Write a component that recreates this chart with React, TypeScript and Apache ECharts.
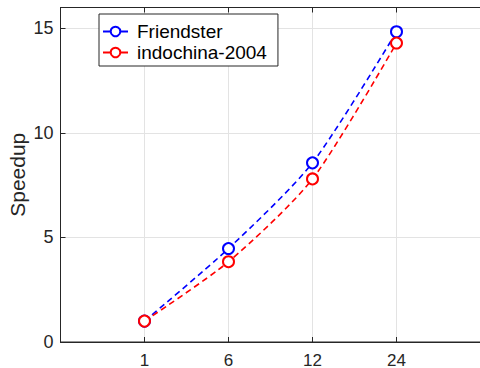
import React, { useEffect, useRef } from "react";
import * as echarts from "echarts";

const xLabels = ["1", "6", "12", "24"];
const friendster = [1, 4.47, 8.57, 14.84];
const indochina = [1, 3.84, 7.8, 14.3];
const seriesNames = ["Friendster", "indochina-2004"];
const yTicks = [0, 5, 10, 15];

export default function App() {
  const ref = useRef<HTMLDivElement>(null);
  useEffect(() => {
    const chart = echarts.init(ref.current!, undefined, { renderer: "svg" });
    const font = "'Liberation Sans', Arial, Helvetica, sans-serif";
    const axisColor = "#262626";
    const mk = (name: string, vals: number[], color: string) => ({
      name,
      type: "line",
      data: vals.map((v, i) => [i + 1, v]),
      smooth: 0.25,
      symbol: "emptyCircle",
      symbolSize: 11,
      showSymbol: true,
      lineStyle: { color, width: 1.6, type: [6, 4] },
      itemStyle: { color, borderColor: color, borderWidth: 1.6 },
      emphasis: { disabled: true },
    });
    chart.setOption({
      animation: false,
      backgroundColor: "#ffffff",
      grid: {
        left: 60.5,
        top: 7.5,
        width: 420,
        height: 334.5,
        containLabel: false,
        outerBoundsMode: "none",
        show: true,
        borderColor: axisColor,
        borderWidth: 1,
        backgroundColor: "transparent",
      },
      legend: {
        orient: "vertical",
        left: 99,
        top: 14,
        data: seriesNames,
        backgroundColor: "#ffffff",
        borderColor: axisColor,
        borderWidth: 1,
        padding: [8, 11, 4, 3],
        itemGap: 2,
        itemWidth: 25,
        itemHeight: 12,
        lineStyle: { type: "solid" },
        textStyle: { fontFamily: font, fontSize: 19, color: "#000", padding: [0, 0, 0, 4] },
      },
      xAxis: [
        {
          type: "value",
          min: 0,
          max: 5,
          interval: 1,
          axisLine: { show: true, onZero: false, lineStyle: { color: axisColor } },
          axisTick: { show: true, inside: true, length: 5, lineStyle: { color: axisColor } },
          splitLine: { show: true, lineStyle: { color: "#e3e3e3", width: 1 } },
          axisLabel: {
            margin: 10,
            fontFamily: font,
            fontSize: 17,
            lineHeight: 16,
            color: axisColor,
            formatter: (v: number) => (v >= 1 && v <= xLabels.length ? xLabels[v - 1] : ""),
          },
        },
        {
          type: "value",
          position: "top",
          min: 0,
          max: 5,
          interval: 1,
          axisLine: { show: true, onZero: false, lineStyle: { color: axisColor } },
          axisTick: { show: true, inside: true, length: 5, lineStyle: { color: axisColor } },
          splitLine: { show: false },
          axisLabel: { show: false },
        },
      ],
      yAxis: {
        type: "value",
        min: 0,
        max: 16,
        interval: 5,
        name: "Speedup",
        nameLocation: "middle",
        nameGap: 33,
        nameMoveOverlap: false,
        nameTextStyle: { fontFamily: font, fontSize: 21, color: axisColor },
        axisLine: { show: true, lineStyle: { color: axisColor } },
        axisTick: { show: true, inside: true, length: 5, lineStyle: { color: axisColor } },
        splitLine: { show: true, lineStyle: { color: "#e3e3e3", width: 1 } },
        axisLabel: {
          margin: 7,
          fontFamily: font,
          fontSize: 18,
          color: axisColor,
          showMaxLabel: false,
          formatter: (v: number) => (yTicks.includes(v) ? String(v) : ""),
        },
      },
      series: [mk(seriesNames[0], friendster, "#0000ff"), mk(seriesNames[1], indochina, "#ff0000")],
    });
    return () => chart.dispose();
  }, []);
  return <div ref={ref} style={{ position: "fixed", left: 0, top: 0, width: 480, height: 368 }} />;
}
